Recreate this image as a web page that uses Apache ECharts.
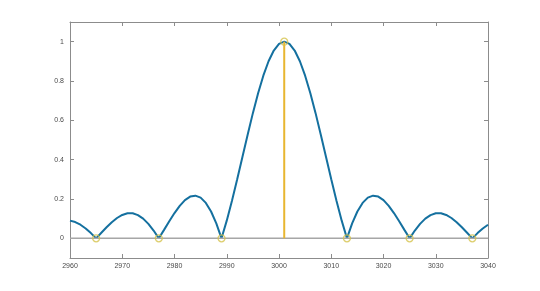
<!DOCTYPE html>
<html><head><meta charset="utf-8">
<script src="https://cdn.jsdelivr.net/npm/echarts@6/dist/echarts.min.js"></script>
<style>html,body{margin:0;padding:0;background:#fff}#c{width:540px;height:291px}</style>
</head><body><div id="c"></div>
<script>
// curve sampled at integer x from 2960 to 3040
const curveStart = 2960;
const curveValues = [
0.0900,0.0827,0.0693,0.0503,0.0267,0,0.0283,0.0562,0.0819,0.1034,0.1190,0.1273,0.1272,0.1181,0.1000,0.0735,0.0396,0,
0.0430,0.0868,0.1286,0.1654,0.1942,0.2122,0.2170,0.2068,0.1801,0.1364,0.0761,0,
0.0899,0.1910,0.3001,0.4135,0.5271,0.6366,0.7379,0.8270,0.9003,0.9549,0.9886,1.0000,
0.9886,0.9549,0.9003,0.8270,0.7379,0.6366,0.5271,0.4135,0.3001,0.1910,0.0899,0,
0.0761,0.1364,0.1801,0.2068,0.2170,0.2122,0.1942,0.1654,0.1286,0.0868,0.0430,0,
0.0396,0.0735,0.1000,0.1181,0.1272,0.1273,0.1190,0.1034,0.0819,0.0562,0.0283,0,
0.0267,0.0503,0.0693
];
const stemX = [2965, 2977, 2989, 3001, 3013, 3025, 3037];
const stemY = [0, 0, 0, 1, 0, 0, 0];
const xTicks = [2960, 2970, 2980, 2990, 3000, 3010, 3020, 3030, 3040];
const yTicks = [0, 0.2, 0.4, 0.6, 0.8, 1];

const curveData = curveValues.map((v, i) => [curveStart + i, v]);
const stemData = stemX.map((x, i) => [x, stemY[i]]);
const baseData = [[xTicks[0], 0], [xTicks[xTicks.length - 1], 0]];

const axisCol = '#8c8c8c';
const labelStyle = { color: '#4a4a4a', fontSize: 7, fontFamily: 'Liberation Sans, Arial, sans-serif' };
const chart = echarts.init(document.getElementById('c'), null, { renderer: 'canvas' });
chart.setOption({
  animation: false,
  backgroundColor: '#ffffff',
  grid: { left: 70, right: 52, top: 22, bottom: 33 },
  xAxis: [{
    type: 'value', min: 2960, max: 3040, interval: 10, position: 'bottom',
    axisLine: { show: true, onZero: false, lineStyle: { color: axisCol, width: 1 } },
    axisTick: { show: true, inside: true, length: 4, lineStyle: { color: axisCol } },
    axisLabel: { ...labelStyle, margin: 5, customValues: xTicks, formatter: v => String(v) },
    splitLine: { show: false }
  }, {
    type: 'value', min: 2960, max: 3040, interval: 10, position: 'top',
    axisLine: { show: true, onZero: false, lineStyle: { color: axisCol, width: 1 } },
    axisTick: { show: true, inside: true, length: 4, lineStyle: { color: axisCol } },
    axisLabel: { show: false }, splitLine: { show: false }
  }],
  yAxis: [{
    type: 'value', min: -0.1, max: 1.1, position: 'left',
    axisLine: { show: true, onZero: false, lineStyle: { color: axisCol, width: 1 } },
    axisTick: { show: true, inside: true, length: 4, lineStyle: { color: axisCol }, customValues: yTicks },
    axisLabel: { ...labelStyle, margin: 6, customValues: yTicks, formatter: v => String(Math.round(v * 10) / 10) },
    splitLine: { show: false }
  }, {
    type: 'value', min: -0.1, max: 1.1, position: 'right',
    axisLine: { show: true, onZero: false, lineStyle: { color: axisCol, width: 1 } },
    axisTick: { show: true, inside: true, length: 4, lineStyle: { color: axisCol }, customValues: yTicks },
    axisLabel: { show: false, customValues: yTicks }, splitLine: { show: false }
  }],
  series: [{
    type: 'line', data: curveData, showSymbol: false, symbol: 'none',
    lineStyle: { color: '#14709f', width: 2 }, z: 2
  }, {
    type: 'line', data: baseData, showSymbol: false, symbol: 'none',
    lineStyle: { color: '#a6a6a6', width: 1.5 }, z: 3
  }, {
    type: 'custom', data: stemData, z: 4,
    renderItem: (params, api) => {
      const p0 = api.coord([api.value(0), 0]);
      const p1 = api.coord([api.value(0), api.value(1)]);
      return { type: 'line', shape: { x1: p0[0], y1: p0[1], x2: p1[0], y2: p1[1] },
        style: { stroke: '#e8b630', lineWidth: 2 } };
    }
  }, {
    type: 'scatter', data: stemData, symbol: 'circle', symbolSize: 7, z: 5,
    itemStyle: { color: 'rgba(0,0,0,0)', borderColor: '#d4c24a', borderWidth: 1.3 }
  }]
});
</script></body></html>
